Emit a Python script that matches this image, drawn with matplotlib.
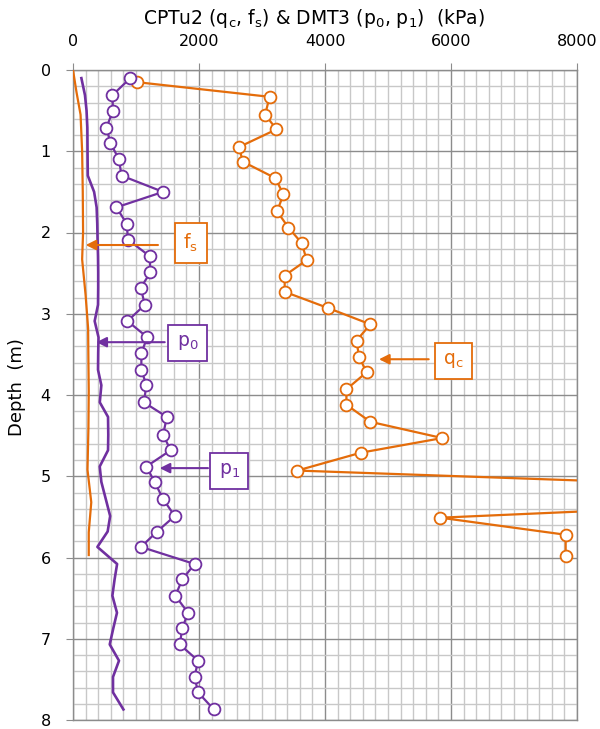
import matplotlib
matplotlib.use('Agg')
import matplotlib.pyplot as plt
from matplotlib.ticker import MultipleLocator

plt.rcParams['mathtext.default'] = 'regular'
plt.rcParams['font.family'] = ['DejaVu Sans']

# CPTu2 cone resistance qc (kPa) vs depth (m)
qc_depth = [0.15, 0.33, 0.55, 0.73, 0.95, 1.13, 1.33, 1.53, 1.74, 1.94,
            2.13, 2.34, 2.53, 2.73, 2.93, 3.13, 3.33, 3.53, 3.72, 3.93,
            4.12, 4.33, 4.53, 4.71, 4.93, 5.13, 5.33, 5.51, 5.72, 5.98]
qc = [1020, 3120, 3050, 3230, 2630, 2700, 3210, 3340, 3240, 3420,
      3630, 3710, 3360, 3360, 4050, 4720, 4500, 4540, 4660, 4340,
      4340, 4720, 5860, 4570, 3560, 10900, 11100, 5830, 7820, 7820]

# CPTu2 sleeve friction fs (kPa)
fs_depth = [0.0, 0.27, 0.55, 1.0, 1.5, 2.0, 2.33, 2.77, 3.18, 3.6,
            3.95, 4.4, 4.92, 5.32, 5.69, 5.97]
fs = [0, 55, 120, 145, 155, 160, 145, 200, 240, 245,
      250, 245, 230, 290, 250, 250]

# DMT3 readings p0, p1 (kPa)
dmt_depth = [0.10, 0.31, 0.50, 0.71, 0.90, 1.10, 1.30, 1.50, 1.69, 1.89,
             2.09, 2.29, 2.49, 2.68, 2.89, 3.09, 3.29, 3.48, 3.69, 3.88,
             4.09, 4.27, 4.49, 4.68, 4.88, 5.07, 5.28, 5.49, 5.68, 5.87,
             6.08, 6.27, 6.47, 6.68, 6.87, 7.07, 7.27, 7.47, 7.66, 7.87]
p0 = [133, 190, 215, 228, 230, 232, 235, 335, 375, 385,
      390, 397, 400, 400, 397, 344, 405, 400, 397, 450,
      425, 556, 560, 556, 424, 450, 520, 590, 550, 387,
      700, 660, 625, 698, 640, 583, 730, 635, 635, 800]
p1 = [910, 625, 635, 530, 595, 730, 770, 1430, 690, 850,
      875, 1215, 1230, 1075, 1140, 865, 1180, 1085, 1085, 1165,
      1125, 1490, 1430, 1550, 1165, 1295, 1430, 1615, 1335, 1080,
      1930, 1735, 1625, 1825, 1735, 1695, 1985, 1930, 1985, 2235]

ORANGE = '#E46C0A'
PURPLE = '#7030A0'
GRID_MAJ = '#8c8c8c'
GRID_MIN = '#c8c8c8'


def label_box(ax, x, y, txt, color, tip_x, tail_x, arrow_y):
    ax.text(x, y, txt, color=color, fontsize=13.5, ha='center', va='center', zorder=6,
            bbox=dict(boxstyle='square,pad=0.45', fc='white', ec=color, lw=1.3))
    ax.annotate('', xy=(tip_x, arrow_y), xytext=(tail_x, arrow_y), zorder=6,
                arrowprops=dict(arrowstyle='-|>', color=color, lw=1.5,
                                mutation_scale=15, shrinkA=0, shrinkB=0))


def main():
    fig = plt.figure(figsize=(6, 7.29), dpi=100)
    ax = fig.add_axes([73 / 600, 1 - 720 / 729, 504 / 600, 650 / 729])

    ax.plot(fs, fs_depth, color=ORANGE, lw=1.6, zorder=3)
    ax.plot(p0, dmt_depth, color=PURPLE, lw=1.9, zorder=3)
    ax.plot(qc, qc_depth, color=ORANGE, lw=1.6, marker='o', ms=8.5,
            mfc='white', mec=ORANGE, mew=1.3, zorder=4)
    ax.plot(p1, dmt_depth, color=PURPLE, lw=1.6, marker='o', ms=8.5,
            mfc='white', mec=PURPLE, mew=1.3, zorder=4)

    ax.set_xlim(0, 8000)
    ax.set_ylim(8, 0)
    ax.xaxis.tick_top()
    ax.xaxis.set_major_locator(MultipleLocator(2000))
    ax.xaxis.set_minor_locator(MultipleLocator(200))
    ax.yaxis.set_major_locator(MultipleLocator(1))
    ax.yaxis.set_minor_locator(MultipleLocator(0.2))
    ax.grid(which='major', color=GRID_MAJ, lw=1.0, zorder=1)
    ax.grid(which='minor', color=GRID_MIN, lw=1.0, zorder=0)
    ax.set_axisbelow(True)
    ax.tick_params(which='minor', length=0)
    ax.tick_params(which='major', length=5, color=GRID_MAJ, labelsize=11.5)
    ax.tick_params(axis='x', pad=10)
    ax.tick_params(axis='y', pad=11)
    for sp in ax.spines.values():
        sp.set_color(GRID_MAJ)
        sp.set_linewidth(1.0)

    ax.set_ylabel('Depth  (m)', fontsize=13)
    ax.yaxis.set_label_coords(-0.093, 0.512)

    fig.text(314 / 600, 1 - 18 / 729,
             'CPTu2 (q$_c$, f$_s$) & DMT3 (p$_0$, p$_1$)  (kPa)',
             ha='center', va='center', fontsize=13.5)

    label_box(ax, 1873, 2.13, 'f$_s$', ORANGE, 202, 1349, 2.154)
    label_box(ax, 1818, 3.36, 'p$_0$', PURPLE, 371, 1456, 3.35)
    label_box(ax, 2482, 4.93, 'p$_1$', PURPLE, 1376, 2143, 4.90)
    label_box(ax, 6038, 3.58, 'q$_c$', ORANGE, 4857, 5646, 3.56)

    fig.savefig('out.png', dpi=100)


if __name__ == '__main__':
    main()
